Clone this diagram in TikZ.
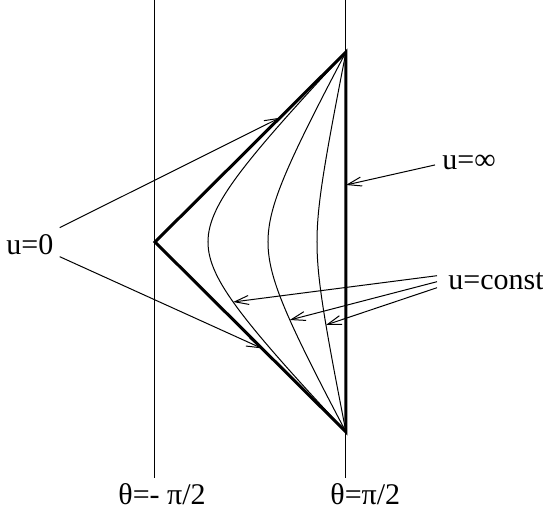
\documentclass[tikz,border=0pt]{standalone}
\usepackage{fontspec}
\setmainfont{Liberation Serif}
\usetikzlibrary{arrows.meta, calc}

\begin{document}
\begin{tikzpicture}[
  x=0.5pt, y=-0.5pt,
  declare function={h(\s)=(sqrt(1.09)-sqrt(\s*\s+0.09))/(sqrt(1.09)-0.3);},
  lbl/.style={font=\fontsize{15}{18}\selectfont, inner sep=0pt, anchor=base west},
  wall/.style={line width=0.5pt},
  bound/.style={line width=1.5pt, line join=miter},
  ucurve/.style={line width=0.5pt},
  pointer/.style={-{Straight Barb[length=7pt, width=4.5pt]}, line width=0.5pt},
]
\useasboundingbox (0,0) rectangle (543,519);

% --- corners of the wedge ---
\coordinate (top)  at (346,52);
\coordinate (apex) at (155,242);
\coordinate (bot)  at (346,432);
\coordinate (ltop) at (155,0);
\coordinate (lbot) at (155,478);
\coordinate (rtop) at (346,0);
\coordinate (rbot) at (346,478);

% --- walls theta = -pi/2, pi/2 ---
\draw[wall] (ltop) -- (lbot);
\draw[wall] (rtop) -- (rbot);

% --- boundary ---
\draw[bound] (top) -- (apex) -- (bot) -- cycle;

% --- u = const curves ---
\foreach \a in {138,78,29}
  \draw[ucurve] plot[domain=-1:1, samples=101, variable=\t]
    ({346-\a*h(\t)}, {242+190*\t});
\coordinate (c1) at ({346-138*h(0.316)},302);
\coordinate (c2) at ({346-78*h(0.41)},320);
\coordinate (c3) at ({346-29*h(0.437)},325);

% --- labels ---
\node[lbl] (u0)   at (6,255)   {u=0};
\node[lbl] (uinf) at (442,170) {u=∞};
\node[lbl] (uc)   at (448,290) {u=const};
\node[lbl] (thl)  at (118,505) {θ=- π/2};
\node[lbl] (thr)  at (330,505) {θ=π/2};

% --- pointers ---
\draw[pointer] ($(u0.north east)+(6,-7)$) -- ($(apex)!0.654!(top)$);
\draw[pointer] ($(u0.south east)+(6,1)$) -- ($(apex)!0.56!(bot)$);
\draw[pointer] ($(uinf.west)+(-7,2)$) -- ($(top)!0.35!(bot)$);
\draw[pointer] ($(uc.west)+(-11,-6)$) -- (c1);
\draw[pointer] ($(uc.west)+(-11,0)$) -- (c2);
\draw[pointer] ($(uc.west)+(-11,6)$) -- (c3);
\end{tikzpicture}
\end{document}
